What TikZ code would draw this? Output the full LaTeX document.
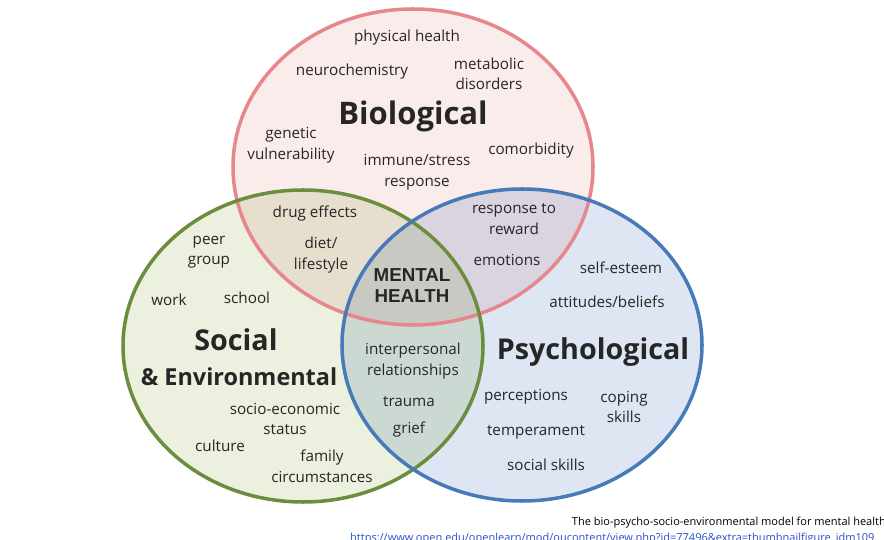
\documentclass[tikz,border=0pt]{standalone}
\usepackage{fontspec}
\setmainfont{Open Sans}
\newfontfamily\heavyfont{Liberation Sans}
\usetikzlibrary{positioning}

\definecolor{bioline}{RGB}{230,135,140}
\definecolor{biofill}{RGB}{251,236,236}
\definecolor{socline}{RGB}{106,142,62}
\definecolor{socfill}{RGB}{235,241,222}
\definecolor{psyline}{RGB}{70,122,185}
\definecolor{psyfill}{RGB}{222,230,243}
\definecolor{inktext}{RGB}{38,38,38}
\definecolor{linkblue}{RGB}{40,80,200}

\begin{document}
\begin{tikzpicture}[x=0.03cm, y=-0.03cm,
  factor/.style={text=inktext, align=center, inner sep=0pt, yshift=-0.06cm,
    font=\fontsize{13}{17.5}\selectfont},
  sphere/.style={text=inktext, inner sep=0pt, yshift=-0.08cm,
    font=\fontsize{24.5}{28}\selectfont\bfseries},
  core/.style={text=inktext, align=center, inner sep=0pt, yshift=-0.06cm,
    font=\fontsize{16}{18}\selectfont\heavyfont\bfseries}]
\useasboundingbox (0,0) rectangle (884,540);
\fill[white] (0,0) rectangle (884,540);
% Fills
\begin{scope}[blend group=multiply]
\fill[biofill] (413,167) ellipse [x radius=180, y radius=158];
\fill[socfill] (303,346) ellipse [x radius=180, y radius=156];
\fill[psyfill] (522,345) ellipse [x radius=180, y radius=156];
\end{scope}
% Outlines
\draw[bioline, line width=3pt] (413,167) ellipse [x radius=180, y radius=158];
\draw[socline, line width=3pt] (303,346) ellipse [x radius=180, y radius=156];
\draw[psyline, line width=3pt] (522,345) ellipse [x radius=180, y radius=156];
% Biological
\node[sphere, font=\fontsize{26.5}{30}\selectfont\bfseries] (bio) at (413,114) {Biological};
\node[factor] (physical) at (407,36) {physical health};
\node[factor] (neuro) at (352,70) {neurochemistry};
\node[factor] (metabolic) at (489,72) {metabolic\\disorders};
\node[factor] (genetic) at (291,143) {genetic\\vulnerability};
\node[factor] (immune) at (417,170) {immune/stress\\response};
\node[factor] (comorb) at (531,149) {comorbidity};
% Social & Environmental
\node[sphere] (social) at (236,337) {Social};
\node[sphere, font=\fontsize{20}{24}\selectfont\bfseries] (environ) at (239,374) {\& Environmental};
\node[factor] (peer) at (209,250) {peer\\group};
\node[factor] (work) at (169,298) {work};
\node[factor] (school) at (247,296) {school};
\node[factor] (socioeco) at (285,417) {socio-economic\\status};
\node[factor] (culture) at (220,444) {culture};
\node[factor] (family) at (322,464) {family\\circumstances};
% Psychological
\node[sphere] (psych) at (593,349) {Psychological};
\node[factor] (esteem) at (621,266) {self-esteem};
\node[factor] (attitudes) at (607,300) {attitudes/beliefs};
\node[factor] (perceptions) at (526,395) {perceptions};
\node[factor] (coping) at (624,405) {coping\\skills};
\node[factor] (temper) at (536,430) {temperament};
\node[factor] (socskills) at (546,463) {social skills};
% Overlaps
\node[factor] (drug) at (315,212) {drug effects};
\node[factor] (diet) at (321,253) {diet/\\lifestyle};
\node[factor] (reward) at (514,217) {response to\\reward};
\node[factor] (emotions) at (507,258) {emotions};
\node[factor] (interpers) at (413,359) {interpersonal\\relationships};
\node[factor] (trauma) at (409,400) {trauma};
\node[factor] (grief) at (409,428) {grief};
\node[core] (mental) at (412,284) {MENTAL\\HEALTH};
% Caption
\node[anchor=east, inner sep=0pt, text=black, font=\fontsize{9.4}{11}\selectfont] (caption) at (886,523)
  {The bio-psycho-socio-environmental model for mental health};
\node[anchor=north west, inner sep=0pt, text=linkblue, font=\fontsize{9.4}{11}\selectfont] (link) at (350,533)
  {https://www.open.edu/openlearn/mod/oucontent/view.php?id=77496\&extra=thumbnailfigure\_idm109};
\end{tikzpicture}
\end{document}
